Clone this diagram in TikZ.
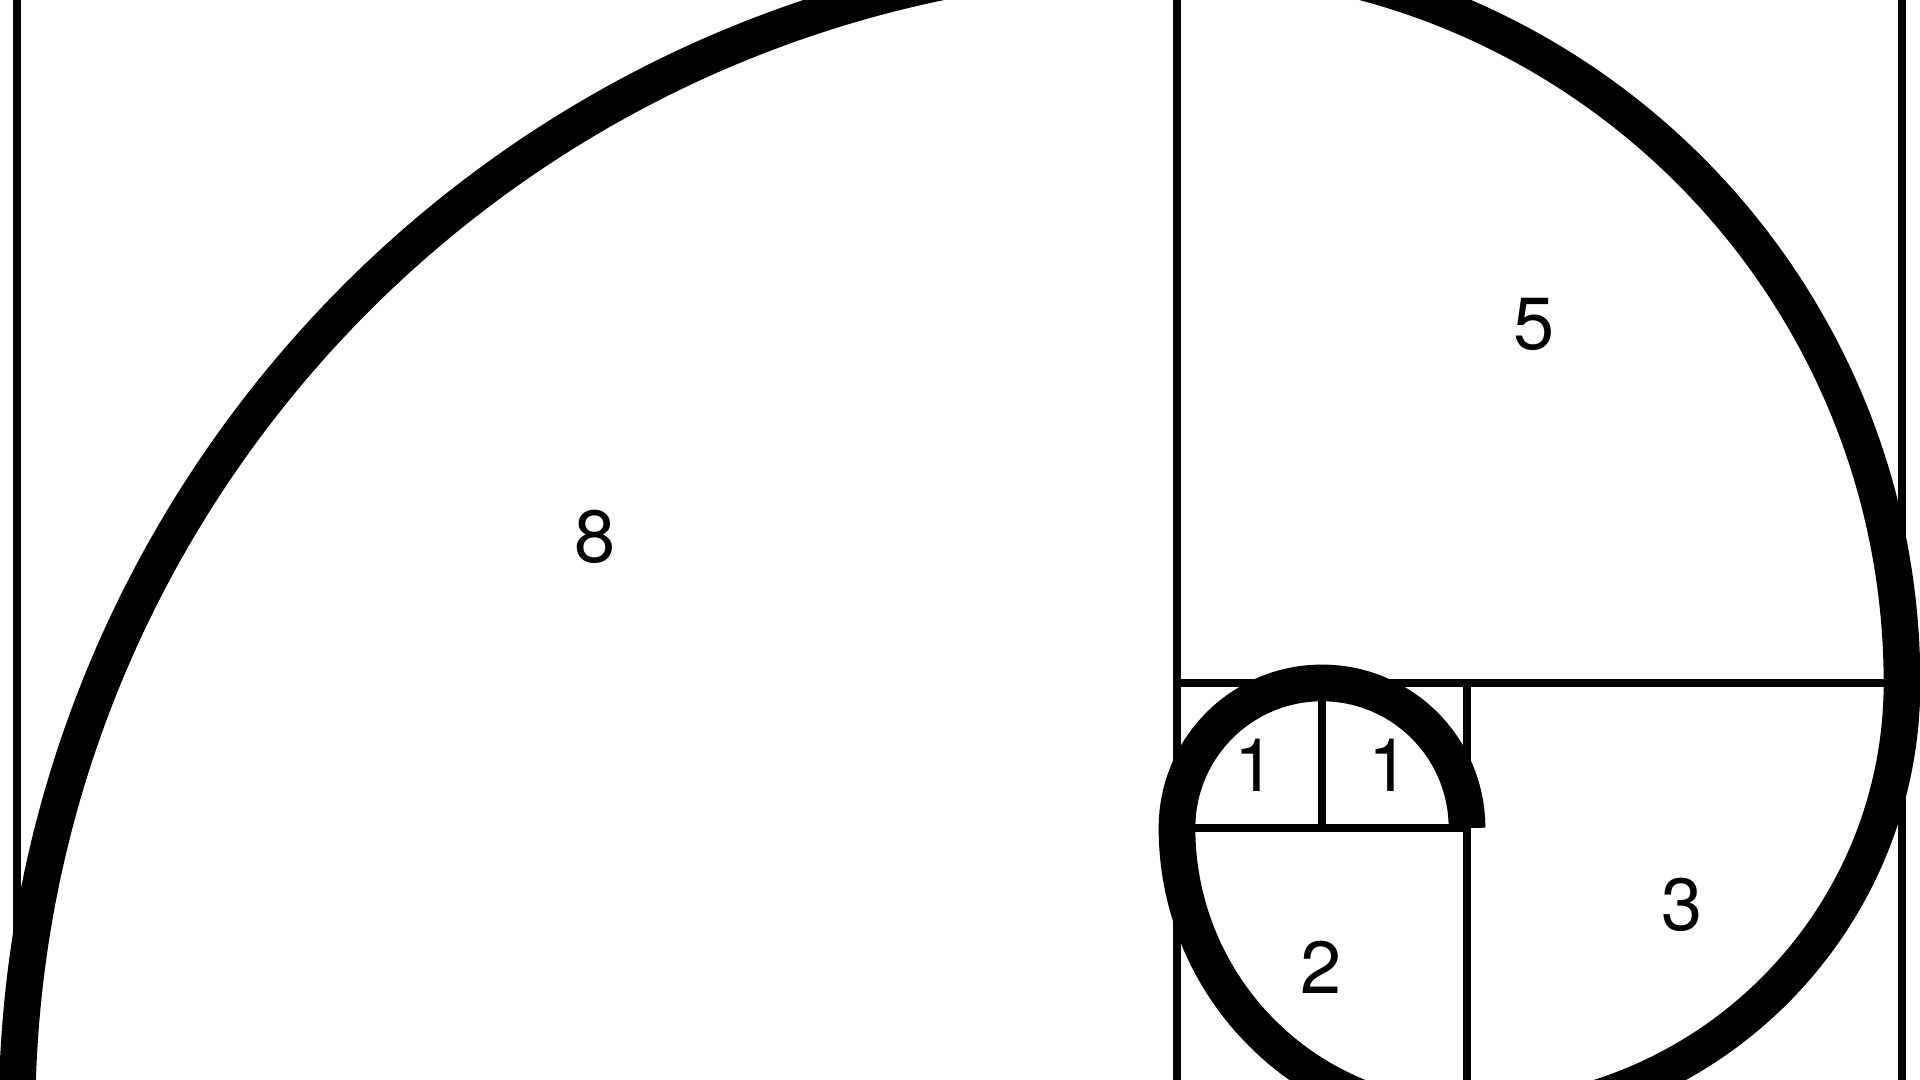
\documentclass[tikz,border=0pt]{standalone}
\usepackage{fontspec}
\setmainfont{TeX Gyre Heros}
\newfontfamily\lsans{TeX Gyre Heros}
\begin{document}
\begin{tikzpicture}[
  grid/.style={line width=1.5pt, black},
  spiral/.style={line width=7.2pt, black, line cap=butt, line join=round},
  lbl/.style={font=\lsans\fontsize{14.5}{17}\selectfont, inner sep=0pt}
]
\useasboundingbox (-0.117,0.262) rectangle (13.124,7.710);
\clip (-0.117,0.262) rectangle (13.124,7.710);
\fill[white] (-0.117,0.262) rectangle (13.124,7.710);
% squares
\draw[grid] (0,0) rectangle (13,8);
\draw[grid] (8,0) -- (8,8);
\draw[grid] (8,3) -- (13,3);
\draw[grid] (10,0) -- (10,3);
\draw[grid] (8,2) -- (10,2);
\draw[grid] (9,2) -- (9,3);
% spiral
\draw[spiral] (10,2)
  arc[start angle=0, end angle=180, radius=1]
  arc[start angle=180, end angle=270, radius=2]
  arc[start angle=270, end angle=360, radius=3]
  arc[start angle=0, end angle=90, radius=5]
  arc[start angle=90, end angle=180, radius=8];
% labels
\node[lbl] (l8) at (3.99,4.01) {\lsans 8};
\node[lbl] (l5) at (10.46,5.47) {\lsans 5};
\node[lbl] (l3) at (11.48,1.47) {\lsans 3};
\node[lbl] (l2) at (8.99,1.04) {\lsans 2};
\node[lbl] (l1a) at (8.54,2.43) {\lsans 1};
\node[lbl] (l1b) at (9.46,2.43) {\lsans 1};
\end{tikzpicture}
\end{document}
